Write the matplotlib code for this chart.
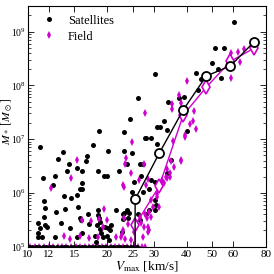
import numpy as np
import matplotlib
matplotlib.use("Agg")
import matplotlib.pyplot as plt
from matplotlib.ticker import FixedLocator, NullLocator, LogLocator

plt.rcParams['font.family'] = 'serif'
plt.rcParams['font.serif'] = ['Liberation Serif', 'DejaVu Serif']
plt.rcParams['mathtext.fontset'] = 'stix'

# satellites: Vmax [km/s], M* [Msun]  (1e5 = below the plot floor)
sat_v = [60.3, 51.4, 55.4, 50.1, 52.6, 53.8, 43.3, 45.4, 30.4, 44.3, 39.0, 37.3, 26.2, 34.0,
         24.4, 32.7, 31.0, 31.7, 33.6, 23.2, 18.6, 40.2, 27.7, 28.1, 29.2, 30.8, 17.6, 20.2,
         23.1, 24.8, 13.6, 11.1, 16.7, 16.6, 13.0, 14.3, 15.3, 16.0, 14.1, 18.5, 19.4, 19.9,
         22.2, 12.7, 11.4, 16.0, 12.5, 15.8, 16.1, 15.4, 13.7, 14.6, 11.5, 11.6, 12.8, 13.8,
         15.5, 16.9, 18.5, 18.4, 18.6, 18.8, 15.7, 15.9, 18.3, 19.6, 20.2, 10.9, 11.1, 11.6,
         11.8, 13.3, 14.5, 17.0, 16.1, 15.3, 10.9, 12.7, 18.8, 17.9, 18.9, 19.2, 19.9, 20.3,
         18.1, 22.8, 23.1, 11.5, 10.9, 11.3, 23.7, 26.6, 27.3, 25.3, 26.9, 24.8, 27.3, 30.2,
         30.6, 28.9, 21.6, 23.7, 24.2, 22.9, 22.9, 20.6, 20.4, 23.9, 29.4, 30.2, 28.9, 33.6,
         34.9, 30.2, 26.2, 26.6, 28.0,
         10.1, 10.4, 10.7, 11.0, 11.4, 11.7, 12.1, 12.5, 12.9, 13.3, 13.7, 14.1, 14.6, 15.0,
         15.5, 16.0, 16.5, 17.0, 17.5, 18.0, 18.6, 19.2, 19.8, 20.4, 21.0, 21.7, 22.4, 23.1,
         23.8, 24.5, 25.2, 25.9]
sat_m = [1.5e9, 5.0e8, 4.9e8, 2.6e8, 2.0e8, 1.4e8, 1.7e8, 1.3e8, 1.6e8, 8.1e7, 6.2e7, 5.9e7,
         5.9e7, 5.0e7, 2.4e7, 2.2e7, 1.7e7, 1.7e7, 1.5e7, 1.35e7, 1.4e7, 1.4e7, 1.05e7, 1.05e7,
         1.05e7, 8.1e6, 7.9e6, 5.9e6, 5.9e6, 5.6e6, 5.8e6, 7.1e6, 4.9e6, 4.0e6, 4.2e6, 3.5e6,
         2.9e6, 2.6e6, 2.6e6, 2.6e6, 2.1e6, 2.1e6, 2.5e6, 2.1e6, 1.9e6, 1.55e6, 1.4e6, 1.2e6,
         1.2e6, 9.3e5, 8.9e5, 7.9e5, 7.1e5, 5.2e5, 4.5e5, 5.0e5, 5.5e5, 4.0e5, 4.9e5, 3.9e5,
         3.4e5, 2.9e5, 3.4e5, 3.1e5, 2.5e5, 2.3e5, 2.2e5, 2.8e5, 2.2e5, 2.5e5, 2.3e5, 2.8e5,
         2.2e5, 2.6e5, 1.8e5, 1.5e5, 1.5e5, 1.5e5, 2.1e5, 1.6e5, 1.8e5, 1.5e5, 1.6e5, 1.3e5,
         1.2e5, 1.9e5, 4.2e5, 3.6e5, 1.8e5, 1.5e5, 3.5e6, 3.5e6, 3.5e6, 1.6e6, 2.1e6, 1.05e6,
         1.05e6, 7.4e5, 5.9e5, 4.8e5, 4.8e5, 4.8e5, 4.3e5, 4.1e5, 3.2e5, 2.5e5, 2.0e5, 3.4e5,
         1.7e6, 1.6e6, 1.2e6, 2.3e6, 4.1e6, 4.7e5, 4.1e5, 3.1e5, 4.0e5,
         1e5, 1e5, 1e5, 1e5, 1e5, 1e5, 1e5, 1e5, 1e5, 1e5, 1e5, 1e5, 1e5, 1e5,
         1e5, 1e5, 1e5, 1e5, 1e5, 1e5, 1e5, 1e5, 1e5, 1e5, 1e5, 1e5, 1e5, 1e5,
         1e5, 1e5, 1e5, 1e5]

# field haloes
fld_v = [58.9, 62.5, 66.2, 59.0, 63.8, 58.9, 40.2, 37.5, 35.2, 38.2, 35.3, 42.8, 27.8, 42.2,
         41.2, 43.3, 39.5, 24.8, 35.5, 24.5, 23.4, 27.5, 34.8, 38.2, 35.9, 34.5, 33.3, 32.2,
         28.5, 26.3, 23.0, 28.0, 31.0, 29.2, 31.5, 28.7, 29.4, 28.2, 26.5, 26.9, 27.5, 28.7,
         23.2, 23.9, 22.9, 22.7, 23.4, 25.3, 24.5, 15.4, 14.6, 12.2, 19.5, 17.3, 20.0, 19.2,
         13.7, 17.0, 18.5, 22.5, 23.5, 23.1, 27.7, 28.5, 28.5, 27.3, 29.8, 30.8, 32.7, 33.8,
         34.5, 33.8, 38.2, 39.3, 16.1, 15.8, 14.4, 18.6, 21.6,
         10.2, 10.6, 11.0, 11.5, 12.0, 12.5, 13.0, 13.5, 14.0, 14.6, 15.2, 15.8, 16.4, 17.0,
         17.7, 18.4, 19.1, 19.8, 20.6, 21.4, 22.2, 23.0, 23.8, 24.6, 25.4, 26.2, 27.0, 27.8]
fld_m = [4.0e8, 4.1e8, 4.8e8, 2.8e8, 2.7e8, 1.4e8, 1.2e8, 6.6e7, 4.6e7, 4.8e7, 3.7e7, 3.3e7,
         3.1e7, 2.2e7, 1.9e7, 1.55e7, 1.2e7, 8.9e6, 9.1e6, 2.3e6, 3.5e6, 3.5e6, 3.9e6, 3.9e6,
         3.0e6, 2.3e6, 2.0e6, 1.7e6, 1.85e6, 1.75e6, 1.4e6, 1.4e6, 8.5e5, 7.4e5, 5.4e5, 4.5e5,
         3.5e5, 3.4e5, 3.5e5, 2.7e5, 2.3e5, 2.0e5, 3.4e5, 2.6e5, 2.0e5, 1.7e5, 1.4e5, 1.9e5,
         1.3e5, 4.1e6, 1.9e6, 1.25e6, 5.1e5, 3.0e5, 3.1e5, 2.3e5, 1.6e5, 1.45e5, 1.5e5, 1.5e5,
         4.4e6, 1.3e6, 4.1e5, 2.3e5, 1.85e5, 1.5e5, 5.5e5, 9.5e5, 1.5e6, 1.9e6, 2.0e6, 2.8e6,
         4.1e6, 1.1e7, 3.1e5, 1.55e5, 1.4e5, 3.3e5, 1.5e5,
         1e5, 1e5, 1e5, 1e5, 1e5, 1e5, 1e5, 1e5, 1e5, 1e5, 1e5, 1e5, 1e5, 1e5,
         1e5, 1e5, 1e5, 1e5, 1e5, 1e5, 1e5, 1e5, 1e5, 1e5, 1e5, 1e5, 1e5, 1e5]

# running medians (0 = median below the floor)
bin_v = [20.8, 25.5, 31.5, 38.8, 47.5, 58.6, 71.9]
sat_med = [0, 7.6e5, 5.5e6, 3.5e7, 1.5e8, 2.3e8, 6.4e8]
fld_bin_v = [20.8, 25.5, 31.5, 38.8, 47.5, 58.6, 71.9]
fld_med = [0, 2.5e5, 1.34e6, 2.8e7, 9.3e7, 2.8e8, 4.9e8]

xticks = [10, 12, 15, 20, 25, 30, 40, 50, 60, 80]
magenta = '#d000d0'

fig = plt.figure(figsize=(2.74, 2.74), dpi=100)
ax = fig.add_axes([0.102, 0.100, 0.869, 0.878])
ax.set_xscale('log')
ax.set_yscale('log')

sv, sm = np.array(sat_v), np.array(sat_m)
fv, fm = np.array(fld_v), np.array(fld_m)

ax.plot(fv[fm <= 1e5], fm[fm <= 1e5], ls='none', marker='d', ms=3.8, mew=0,
        color=magenta, zorder=1)
ax.plot(sv, sm, ls='none', marker='o', ms=3.6, mew=0, color='black', zorder=2,
        label='Satellites')
ax.plot(fv[fm > 1e5], fm[fm > 1e5], ls='none', marker='d', ms=3.8, mew=0,
        color=magenta, zorder=3, label='Field')

ax.plot(fld_bin_v, fld_med, color=magenta, lw=1.0, marker='d', ms=7, mew=1.2,
        mfc='white', mec=magenta, zorder=4)
ax.plot(bin_v, sat_med, color='black', lw=1.0, marker='o', ms=6.5, mew=1.3,
        mfc='white', mec='black', zorder=5)

ax.set_xlim(10, 80)
ax.set_ylim(1e5, 3e9)
ax.xaxis.set_major_locator(FixedLocator(xticks))
ax.xaxis.set_minor_locator(NullLocator())
ax.set_xticklabels([str(t) for t in xticks])
ax.yaxis.set_major_locator(LogLocator(base=10, numticks=10))
ax.yaxis.set_minor_locator(LogLocator(base=10, subs=np.arange(2, 10), numticks=10))

ax.tick_params(which='both', direction='in', top=True, right=True)
ax.tick_params(axis='x', labelsize=8, pad=2.5)
ax.tick_params(axis='y', labelsize=7, pad=1.5)
ax.tick_params(which='major', length=4, width=0.6)
ax.tick_params(which='minor', length=2, width=0.5)
for s in ax.spines.values():
    s.set_linewidth(0.8)

ax.set_xlabel(r'$V_{\rm max}$ [km/s]', fontsize=9.5)
ax.xaxis.set_label_coords(0.5, -0.052)
ax.set_ylabel(r'$M_*\ [M_\odot]$', fontsize=8.5)
ax.yaxis.set_label_coords(-0.056, 0.52)

ax.legend(loc='upper left', frameon=False, fontsize=9, handletextpad=0.5,
          borderaxespad=0.3, labelspacing=0.3, bbox_to_anchor=(0.0, 1.0))

fig.savefig('out.png', dpi=100)
